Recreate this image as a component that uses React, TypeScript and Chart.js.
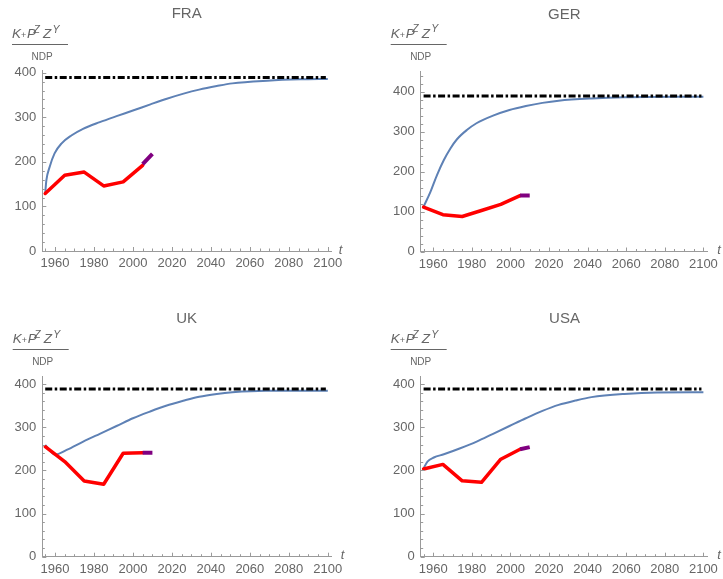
import { useEffect, useRef } from 'react';
import { Chart, registerables } from 'chart.js';

Chart.register(...registerables);

// ---------- data ----------
const obsYears = [1955, 1965, 1975, 1985, 1995, 2005];
const recentYears = [2005, 2010];
const targetLevel = 389;
const targetYears = [1955, 2099];

const xTickValues = [1960, 1980, 2000, 2020, 2040, 2060, 2080, 2100];
const yTickValues = [0, 100, 200, 300, 400];

const fraRed = [129, 170, 177, 146, 155, 192];
const fraPurple = [195, 218];
const fraBlueYears = [1955, 1955.6, 1957.3, 1959.8, 1963.3, 1968.4, 1974.4, 1983, 1992, 2000, 2009, 2017, 2026, 2034, 2043, 2051, 2069, 2086, 2100];
const fraBlue = [130, 159, 189, 219, 241, 259, 274, 289, 303, 315, 329, 341, 353, 362, 370, 376, 382, 385, 386];

const gerRed = [111, 92, 87.5, 102.5, 118, 140];
const gerPurple = [140, 140];
const gerBlueYears = [1955, 1958.6, 1962, 1965.5, 1968.9, 1972.3, 1977.4, 1982.4, 1991, 1999.5, 2008, 2016.6, 2025, 2042, 2059, 2100];
const gerBlue = [112, 150, 192, 229, 258, 281, 304, 321, 340, 354, 364, 372, 377.5, 383, 386, 387.5];

const ukRed = [255, 220.5, 175.6, 168, 240, 241];
const ukPurple = [241, 241];
const ukBlueYears = [1955, 1960, 1966, 1974.5, 1983, 1991.6, 2000, 2008.7, 2017, 2025.8, 2034, 2043, 2051, 2068, 2100];
const ukBlue = [259, 237, 247.6, 267, 285, 303, 321, 336.5, 350, 361.5, 371, 377.5, 381.4, 385, 385];

const usaRed = [203.5, 214, 176, 172.5, 226, 249];
const usaPurple = [249, 254];
const usaBlueYears = [1955, 1957, 1960.3, 1965.5, 1974, 1982.5, 1991, 1999.5, 2008, 2016.6, 2025, 2033.6, 2042, 2059, 2076, 2100];
const usaBlue = [205, 220.5, 230, 237.5, 251.5, 267, 285, 303, 321, 338, 352, 362, 370, 377.5, 381, 381.5];

// ---------- styling / layout ----------
const X_MIN = 1953.5;
const X_MAX = 2102;
const FONT = '"Liberation Sans", Arial, sans-serif';
const TEXT = '#666666';
const AXIS = '#9a9a9a';
const BLUE = 'rgb(94,129,181)';
const RED = '#ff0000';
const PURPLE = '#800080';

type Panel = {
  title: string;
  left: number; top: number; w: number; h: number;
  L: number; R: number; T: number; B: number;
  yMax: number;
  titleX: number; titleY: number;
  fx: number; fy: number;
  tOff: number;
  red: number[]; purple: number[]; blueYears: number[]; blue: number[];
};

const panels: Panel[] = [
  { title: 'FRA', left: 0, top: 0, w: 361, h: 290, L: 42.3, R: 331.7, T: 70, B: 251, yMax: 406,
    titleX: 186.7, titleY: 14, fx: 12, fy: 44, tOff: 7,
    red: fraRed, purple: fraPurple, blueYears: fraBlueYears, blue: fraBlue },
  { title: 'GER', left: 361, top: 0, w: 362, h: 290, L: 59.7, R: 350.7, T: 71.7, B: 251.5, yMax: 450,
    titleX: 203.3, titleY: 15, fx: 29.7, fy: 43.5, tOff: 10,
    red: gerRed, purple: gerPurple, blueYears: gerBlueYears, blue: gerBlue },
  { title: 'UK', left: 0, top: 290, w: 361, h: 289, L: 42.3, R: 331.7, T: 86, B: 266.7, yMax: 419,
    titleX: 186.7, titleY: 29, fx: 12.7, fy: 59.3, tOff: 9,
    red: ukRed, purple: ukPurple, blueYears: ukBlueYears, blue: ukBlue },
  { title: 'USA', left: 361, top: 290, w: 362, h: 289, L: 59.7, R: 350.7, T: 86, B: 266.7, yMax: 419,
    titleX: 203.5, titleY: 29, fx: 29.7, fy: 59.3, tOff: 10,
    red: usaRed, purple: usaPurple, blueYears: usaBlueYears, blue: usaBlue },
];

const decorPlugin = {
  id: 'decor',
  afterDraw(chart: any, _args: any, opts: any) {
    const p: Panel = opts.panel;
    const { ctx, chartArea } = chart;
    const xs = chart.scales.x;
    const ys = chart.scales.y;
    ctx.save();
    ctx.strokeStyle = AXIS;
    ctx.lineWidth = 1;
    // x ticks pointing inward
    for (let v = 1955; v <= 2100; v += 5) {
      const px = Math.round(xs.getPixelForValue(v)) + 0.5;
      const len = v % 20 === 0 ? 4 : 2.5;
      ctx.beginPath();
      ctx.moveTo(px, chartArea.bottom);
      ctx.lineTo(px, chartArea.bottom - len);
      ctx.stroke();
    }
    for (let v = 0; v <= p.yMax; v += 20) {
      const py = Math.round(ys.getPixelForValue(v)) + 0.5;
      const len = v % 100 === 0 ? 4 : 2.5;
      ctx.beginPath();
      ctx.moveTo(chartArea.left, py);
      ctx.lineTo(chartArea.left + len, py);
      ctx.stroke();
    }
    // title
    ctx.fillStyle = TEXT;
    ctx.textAlign = 'center';
    ctx.textBaseline = 'middle';
    ctx.font = `15px ${FONT}`;
    ctx.fillText(p.title, p.titleX, p.titleY);
    // axis label t
    ctx.textAlign = 'left';
    ctx.font = `italic 13px ${FONT}`;
    ctx.fillText('t', chartArea.right + p.tOff, chartArea.bottom - 1);
    // formula
    const x0 = p.fx;
    const y0 = p.fy;
    ctx.textBaseline = 'alphabetic';
    const big = `italic 13.5px ${FONT}`;
    const sup = `italic 10.5px ${FONT}`;
    ctx.font = big; ctx.fillText('K', x0, y0 - 6);
    ctx.font = `9px ${FONT}`; ctx.fillText('+', x0 + 9, y0 - 6);
    ctx.font = big; ctx.fillText('P', x0 + 15, y0 - 6);
    ctx.font = sup; ctx.fillText('Z', x0 + 21.5, y0 - 11.5);
    ctx.font = big; ctx.fillText('Z', x0 + 31, y0 - 6);
    ctx.font = sup; ctx.fillText('Y', x0 + 40.5, y0 - 11.5);
    ctx.strokeStyle = TEXT;
    ctx.beginPath();
    ctx.moveTo(x0, Math.round(y0) + 0.5);
    ctx.lineTo(x0 + 56, Math.round(y0) + 0.5);
    ctx.stroke();
    ctx.font = `10px ${FONT}`;
    ctx.textAlign = 'center';
    ctx.fillText('NDP', x0 + 30, y0 + 16);
    ctx.restore();
  },
};

function PanelChart({ p }: { p: Panel }) {
  const ref = useRef<HTMLCanvasElement | null>(null);
  useEffect(() => {
    if (!ref.current) return;
    const chart = new Chart(ref.current, {
      type: 'line',
      data: {
        datasets: [
          {
            data: recentYears.map((x, i) => ({ x, y: p.purple[i] })),
            borderColor: PURPLE, borderWidth: 4, pointRadius: 0, tension: 0, borderCapStyle: 'butt',
          },
          {
            data: obsYears.map((x, i) => ({ x, y: p.red[i] })),
            borderColor: RED, borderWidth: 3.5, pointRadius: 0, tension: 0, borderJoinStyle: 'round', borderCapStyle: 'round',
          },
          {
            data: targetYears.map((x) => ({ x, y: targetLevel })),
            borderColor: '#000000', borderWidth: 3, pointRadius: 0, borderDash: [7, 2.5, 2.5, 2.5], borderCapStyle: 'butt',
          },
          {
            data: p.blueYears.map((x, i) => ({ x, y: p.blue[i] })),
            borderColor: BLUE, borderWidth: 2, pointRadius: 0, cubicInterpolationMode: 'monotone',
          },
        ],
      } as any,
      options: {
        responsive: false,
        animation: false,
        events: [],
        layout: { padding: { left: 0, top: p.T, right: p.w - p.R, bottom: 0 }, autoPadding: false },
        plugins: {
          legend: { display: false },
          tooltip: { enabled: false },
          decor: { panel: p },
        } as any,
        scales: {
          x: {
            type: 'linear', min: X_MIN, max: X_MAX,
            grid: { display: false, drawTicks: false },
            border: { display: true, color: AXIS, width: 1 },
            ticks: { color: TEXT, font: { family: FONT, size: 13 }, padding: 5, maxRotation: 0, autoSkip: false,
              callback: (v: any) => String(v) },
            afterBuildTicks: (s: any) => { s.ticks = xTickValues.map((value) => ({ value })); },
            afterFit: (s: any) => { s.height = p.h - p.B; },
          },
          y: {
            type: 'linear', min: 0, max: p.yMax,
            grid: { display: false, drawTicks: false },
            border: { display: true, color: AXIS, width: 1 },
            ticks: { color: TEXT, font: { family: FONT, size: 13 }, padding: 6, autoSkip: false,
              callback: (v: any) => String(v) },
            afterBuildTicks: (s: any) => { s.ticks = yTickValues.map((value) => ({ value })); },
            afterFit: (s: any) => { s.width = p.L; },
          },
        } as any,
      },
      plugins: [decorPlugin],
    });
    return () => chart.destroy();
  }, [p]);
  return (
    <canvas
      ref={ref}
      width={p.w}
      height={p.h}
      style={{ position: 'absolute', left: p.left, top: p.top, width: p.w, height: p.h, display: 'block' }}
    />
  );
}

export default function App() {
  return (
    <div style={{ position: 'absolute', left: 0, top: 0, width: 723, height: 579, background: '#fff', overflow: 'hidden' }}>
      {panels.map((p) => (
        <PanelChart key={p.title} p={p} />
      ))}
    </div>
  );
}
